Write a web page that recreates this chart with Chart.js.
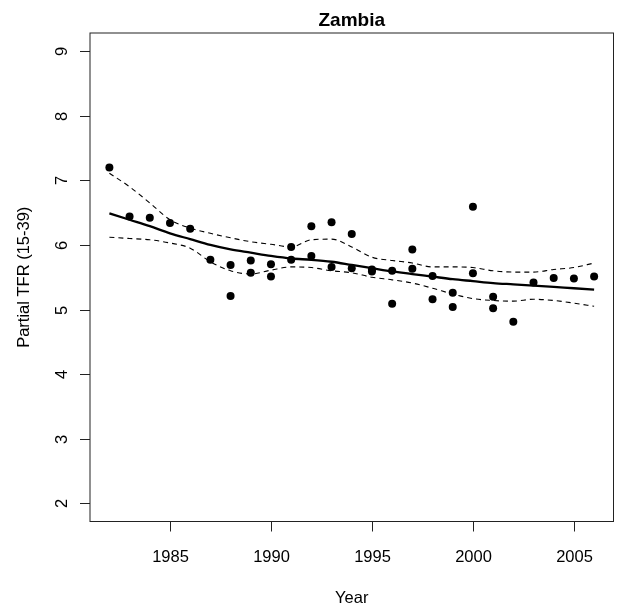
<!DOCTYPE html>
<html>
<head>
<meta charset="utf-8">
<script src="https://cdn.jsdelivr.net/npm/chart.js@4/dist/chart.umd.min.js"></script>
<style>
  html, body { margin: 0; padding: 0; background: #fff; }
  #wrap { width: 621px; height: 612px; position: relative; }
</style>
</head>
<body>
<div id="wrap"><canvas id="c"></canvas></div>
<script>
// observed survey points
const pointYears = [1982, 1983, 1984, 1985, 1986, 1987, 1988, 1988, 1989, 1989,
  1990, 1990, 1991, 1991, 1992, 1992, 1993, 1993, 1994, 1994,
  1995, 1995, 1996, 1996, 1997, 1997, 1998, 1998, 1999, 1999,
  2000, 2000, 2001, 2001, 2002, 2003, 2004, 2005, 2006];
const pointTfr = [7.20, 6.44, 6.42, 6.34, 6.25, 5.77, 5.69, 5.21, 5.76, 5.57,
  5.70, 5.51, 5.97, 5.77, 6.29, 5.83, 6.35, 5.66, 6.17, 5.64,
  5.62, 5.59, 5.60, 5.09, 5.93, 5.63, 5.52, 5.16, 5.26, 5.04,
  6.59, 5.56, 5.20, 5.02, 4.81, 5.42, 5.49, 5.48, 5.51];

// smooth fit and its band, one value per year
const fitYears = [1982, 1983, 1984, 1985, 1986, 1987, 1988, 1989, 1990, 1991,
  1992, 1993, 1994, 1995, 1996, 1997, 1998, 1999, 2000, 2001,
  2002, 2003, 2004, 2005, 2006];
const fitMid = [6.49, 6.39, 6.29, 6.18, 6.09, 6.00, 5.93, 5.88, 5.83, 5.79,
  5.77, 5.74, 5.69, 5.64, 5.59, 5.55, 5.51, 5.47, 5.44, 5.41,
  5.39, 5.37, 5.35, 5.33, 5.31];
const fitUpper = [7.11, 6.90, 6.65, 6.39, 6.26, 6.18, 6.11, 6.05, 6.01, 5.97,
  6.08, 6.09, 5.97, 5.81, 5.76, 5.72, 5.66, 5.66, 5.65, 5.60,
  5.58, 5.58, 5.62, 5.65, 5.72];
const fitLower = [6.12, 6.10, 6.08, 6.03, 5.95, 5.74, 5.60, 5.55, 5.61, 5.66,
  5.65, 5.60, 5.57, 5.50, 5.46, 5.41, 5.33, 5.24, 5.17, 5.14,
  5.13, 5.16, 5.14, 5.10, 5.05];

const xTicks = [1985, 1990, 1995, 2000, 2005];
const yTicks = [2, 3, 4, 5, 6, 7, 8, 9];

const TITLE = "Zambia";
const X_TITLE = "Year";
const Y_TITLE = "Partial TFR (15-39)";
const FONT = "Liberation Sans, Arial, Helvetica, sans-serif";

const toXY = (xs, ys) => xs.map((x, i) => ({ x, y: ys[i] }));

const lineSet = (label, data, width, dash) => ({
  label,
  data,
  showLine: true,
  borderColor: "#000",
  backgroundColor: "transparent",
  borderWidth: width,
  borderDash: dash,
  pointRadius: 0,
  cubicInterpolationMode: "monotone",
  fill: false,
});

// R-style box, outward ticks, rotated y labels
const baseAxesPlugin = {
  id: "baseAxes",
  afterDraw(chart) {
    const { ctx, chartArea } = chart;
    const xs = chart.scales.x;
    const ys = chart.scales.y;
    const { left, right, top, bottom } = chartArea;

    ctx.save();
    ctx.strokeStyle = "#222";
    ctx.lineWidth = 1;
    ctx.strokeRect(left, top, right - left, bottom - top);

    ctx.fillStyle = "#000";
    ctx.font = `16.5px ${FONT}`;
    ctx.textAlign = "center";
    ctx.textBaseline = "alphabetic";

    xTicks.forEach((t) => {
      const px = Math.round(xs.getPixelForValue(t)) + 0.5;
      ctx.beginPath();
      ctx.moveTo(px, bottom);
      ctx.lineTo(px, bottom + 10);
      ctx.stroke();
      ctx.fillText(String(t), px, 562);
    });

    yTicks.forEach((t) => {
      const py = Math.round(ys.getPixelForValue(t)) + 0.5;
      ctx.beginPath();
      ctx.moveTo(left, py);
      ctx.lineTo(left - 10, py);
      ctx.stroke();
      ctx.save();
      ctx.translate(66.5, py);
      ctx.rotate(-Math.PI / 2);
      ctx.fillText(String(t), 0, 0);
      ctx.restore();
    });

    ctx.fillText(X_TITLE, (left + right) / 2, 603);

    ctx.save();
    ctx.translate(28.5, (top + bottom) / 2);
    ctx.rotate(-Math.PI / 2);
    ctx.fillText(Y_TITLE, 0, 0);
    ctx.restore();

    ctx.font = `bold 19px ${FONT}`;
    ctx.fillText(TITLE, (left + right) / 2, 26);
    ctx.restore();
  },
};

new Chart(document.getElementById("c"), {
  type: "scatter",
  plugins: [baseAxesPlugin],
  data: {
    datasets: [
      lineSet("Upper", toXY(fitYears, fitUpper), 1.1, [5, 4]),
      lineSet("Lower", toXY(fitYears, fitLower), 1.1, [5, 4]),
      lineSet("Fit", toXY(fitYears, fitMid), 2.3, []),
      {
        label: "Observed",
        data: toXY(pointYears, pointTfr),
        showLine: false,
        pointRadius: 4,
        pointBackgroundColor: "#000",
        pointBorderColor: "#000",
        pointBorderWidth: 0,
      },
    ],
  },
  options: {
    responsive: true,
    maintainAspectRatio: false,
    animation: false,
    layout: {
      padding: { left: 90, right: 7.5, top: 33, bottom: 90.5 },
    },
    plugins: {
      legend: { display: false },
      tooltip: { enabled: false },
    },
    scales: {
      x: { type: "linear", display: false, min: 1981.04, max: 2006.96 },
      y: { type: "linear", display: false, min: 1.72, max: 9.28 },
    },
  },
});
</script>
</body>
</html>
